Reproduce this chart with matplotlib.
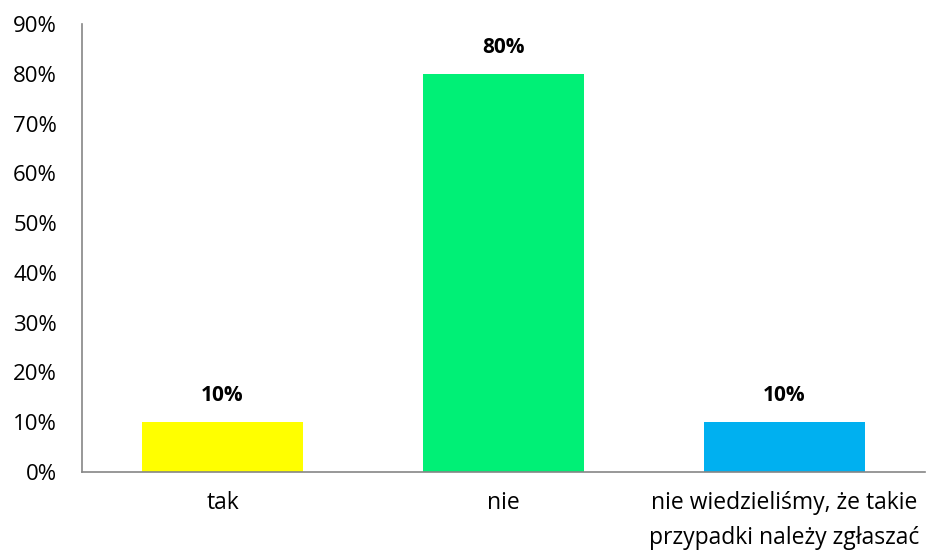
import matplotlib
matplotlib.use("Agg")
import matplotlib.pyplot as plt
from matplotlib.ticker import FuncFormatter

categories = ["tak", "nie", "nie wiedzieliśmy, że takie\nprzypadki należy zgłaszać"]
values = [10, 80, 10]
colors = ["#FFFF00", "#00F076", "#00B0F0"]
yticks = [0, 10, 20, 30, 40, 50, 60, 70, 80, 90]

plt.rcParams["font.family"] = ["Open Sans", "DejaVu Sans"]

fig = plt.figure(figsize=(9.26, 5.52), dpi=100)
ax = fig.add_axes([0.0886, 0.145, 0.9104, 0.8115])

x = list(range(len(categories)))
bars = ax.bar(x, values, width=0.57, color=colors)

for xi, v in zip(x, values):
    ax.annotate(f"{v}%", (xi, v), xytext=(0, 19), textcoords="offset points",
                ha="center", va="center", fontsize=15, fontweight="bold", color="#000000")

ax.set_xlim(-0.5, 2.5)
ax.set_ylim(0, 90)
ax.set_yticks(yticks)
ax.yaxis.set_major_formatter(FuncFormatter(lambda v, p: f"{v:.0f}%"))
ax.set_xticks(x)
ax.set_xticklabels(categories, linespacing=1.6)

ax.tick_params(axis="both", length=0, labelsize=16, colors="#000000")
ax.tick_params(axis="x", labelsize=16.5, pad=14)
ax.tick_params(axis="y", pad=18)

for side in ["top", "right"]:
    ax.spines[side].set_visible(False)
for side in ["left", "bottom"]:
    ax.spines[side].set_color("#868686")
    ax.spines[side].set_linewidth(1.2)

fig.savefig("out.png", dpi=100)
